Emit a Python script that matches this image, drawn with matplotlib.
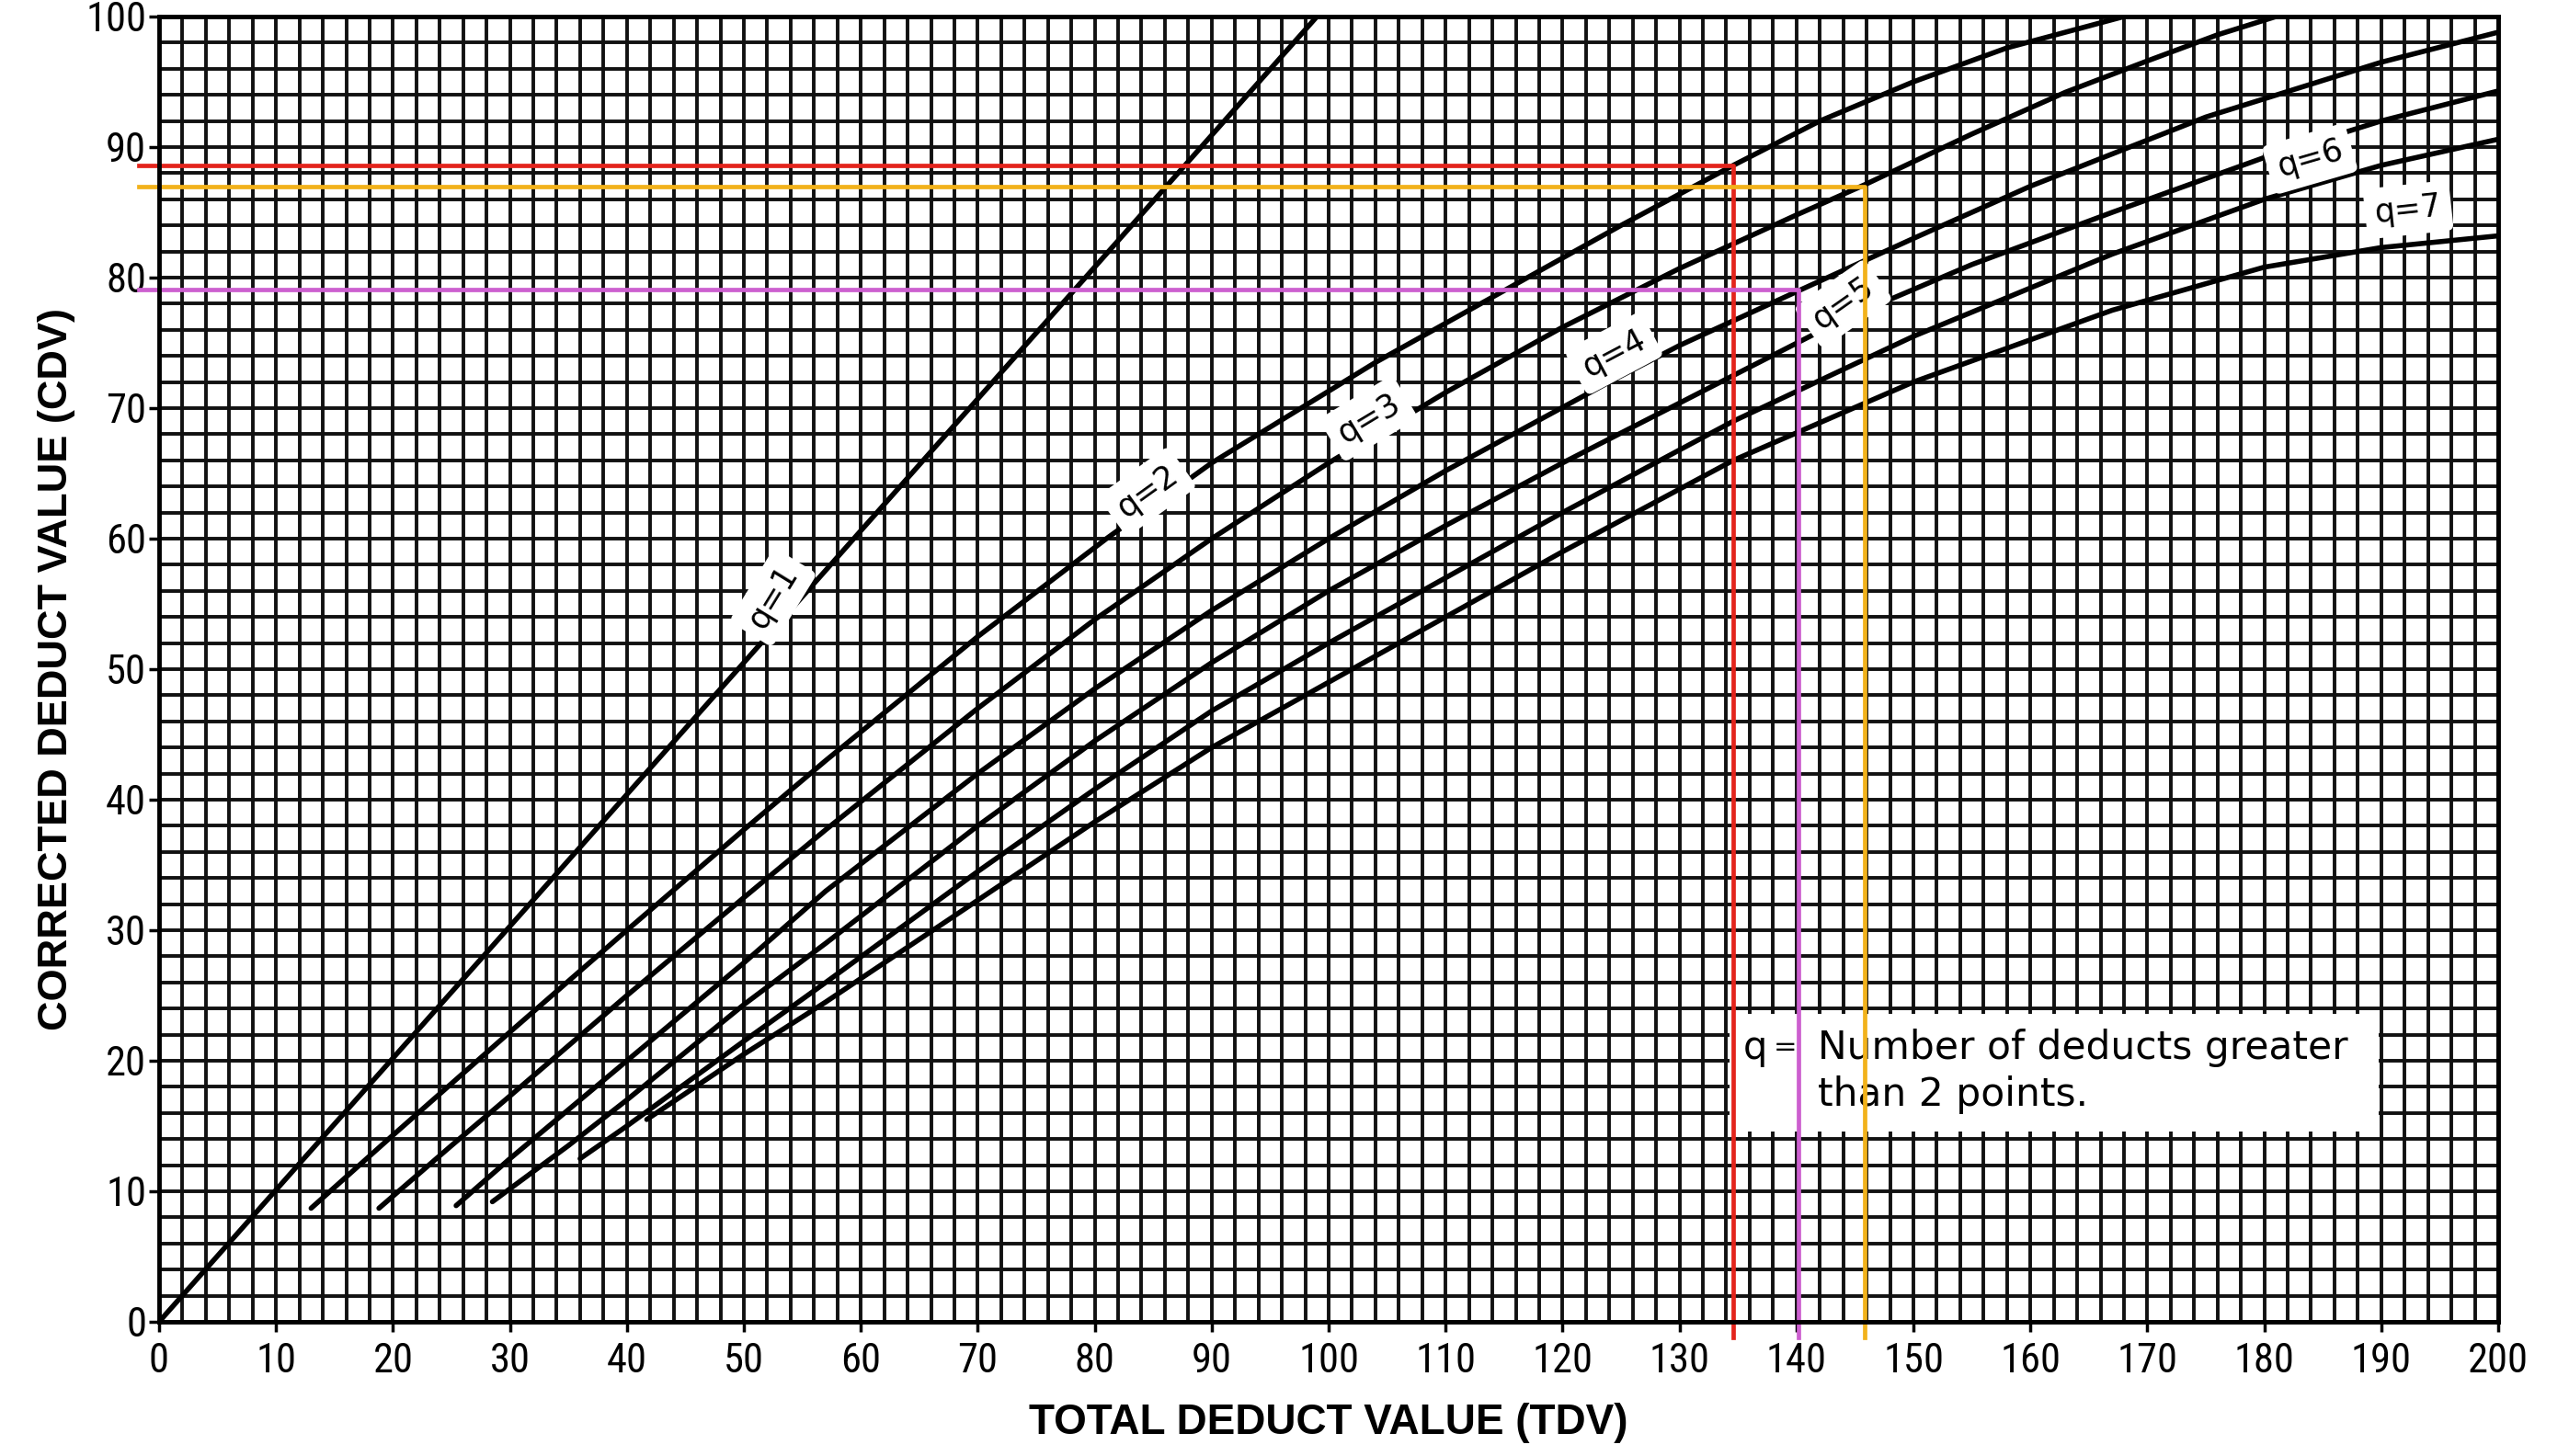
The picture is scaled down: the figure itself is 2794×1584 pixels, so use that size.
import numpy as np
import matplotlib
matplotlib.use("Agg")
import matplotlib.pyplot as plt
from matplotlib import font_manager

# Corrected deduct value curves: total deduct value (TDV) -> corrected deduct value (CDV)
q1_tdv = [0, 99]
q1_cdv = [0, 100]

q2_tdv = [13, 20, 30, 40, 50, 57, 70, 81, 90, 100, 104, 115, 125, 134.6, 142, 150, 158, 168]
q2_cdv = [8.7, 14.3, 22.2, 30, 37.7, 43, 52.5, 60, 65.8, 71.3, 73.5, 79, 84, 88.6, 92, 95, 97.6, 100]

q3_tdv = [18.8, 25, 30, 40, 50, 57, 70, 80, 90, 100, 110, 120, 130, 140, 145.8, 155, 163, 170, 176, 181]
q3_cdv = [8.7, 13.5, 17.3, 25, 32.5, 37.7, 47, 53.8, 60, 65.8, 71.2, 76.2, 80.7, 84.8, 87.1, 91, 94.2, 96.6, 98.6, 100]

q4_tdv = [25.4, 30, 40, 50, 57, 70, 80, 90, 100, 110, 124, 130, 140.2, 150, 160, 175, 190, 200]
q4_cdv = [8.9, 12.5, 20, 27.5, 33, 42, 48.5, 54.5, 60, 65.2, 72, 74.8, 79, 83, 87, 92.3, 96.5, 98.8]

q5_tdv = [28.5, 35, 40, 50, 57, 70, 80, 90, 100, 110, 120, 134.6, 144, 155, 167, 180, 190, 200]
q5_cdv = [9.2, 13.5, 17, 24.3, 29, 38, 44.5, 50.5, 56, 61, 65.8, 72.5, 76.8, 81, 85, 89.2, 92, 94.3]

q6_tdv = [36, 40, 50, 57, 70, 80, 90, 100, 110, 120, 134.6, 150, 167, 180, 190, 200]
q6_cdv = [12.5, 15, 21.5, 26, 34.5, 40.8, 46.8, 52, 57, 62, 69, 75.5, 81.8, 86, 88.6, 90.6]

q7_tdv = [41.7, 50, 57, 70, 80, 90, 100, 110, 120, 134.6, 150, 167, 180, 190, 200]
q7_cdv = [15.5, 20.5, 24.5, 32.3, 38.3, 44, 49, 54, 59, 66, 72, 77.5, 80.8, 82.3, 83.2]

curves = [(q1_tdv, q1_cdv), (q2_tdv, q2_cdv), (q3_tdv, q3_cdv), (q4_tdv, q4_cdv),
          (q5_tdv, q5_cdv), (q6_tdv, q6_cdv), (q7_tdv, q7_cdv)]

# Curve labels and where they sit (TDV, CDV)
label_text = ["q=1", "q=2", "q=3", "q=4", "q=5", "q=6", "q=7"]
label_tdv = [52.5, 84.5, 103.4, 124.4, 144, 183.9, 192.3]
label_cdv = [55.5, 63.6, 69.2, 74.2, 78, 89.1, 85.2]
label_angle_extra = [10, 0, 0, 0, 10, 0, 0]

# Worked read-offs: TDV on the x axis, resulting CDV on the y axis
read_tdv = [134.6, 145.8, 140.2]
read_cdv = [88.6, 87.0, 79.1]
read_colors = ["#e3241c", "#f2b21b", "#cc5fcf"]

x_ticks = list(range(0, 201, 10))
y_ticks = list(range(0, 101, 10))

available = {f.name for f in font_manager.fontManager.ttflist}
narrow = [n for n in ["Liberation Sans Narrow", "DejaVu Sans Condensed", "Roboto Condensed",
                      "Open Sans Condensed", "Liberation Sans"] if n in available]
font = narrow + ["DejaVu Sans"]
title_font = ["Liberation Sans", "DejaVu Sans"]

W, H = 2794, 1584
fig = plt.figure(figsize=(W / 100, H / 100), dpi=100)
fig.patch.set_facecolor("white")
left, right, bottom, top = 173, 2717, 1438, 18
ax = fig.add_axes([left / W, 1 - bottom / H, (right - left) / W, (bottom - top) / H])
ax.set_xlim(0, 200)
ax.set_ylim(0, 100)

# Graph paper grid: one line every 2 units
for gx in np.arange(0, 201, 2):
    ax.axvline(gx, color="#111111", lw=2.8, zorder=1)
for gy in np.arange(0, 101, 2):
    ax.axhline(gy, color="#111111", lw=2.8, zorder=1)

# CDV curves
for tdv, cdv in curves:
    ax.plot(tdv, cdv, color="black", lw=4.0, zorder=3, solid_capstyle="round")

fig.canvas.draw()


def screen_angle(tdv, cdv, x0):
    x1, x2 = x0 - 3, x0 + 3
    y1, y2 = np.interp([x1, x2], tdv, cdv)
    p1 = ax.transData.transform((x1, y1))
    p2 = ax.transData.transform((x2, y2))
    return np.degrees(np.arctan2(p2[1] - p1[1], p2[0] - p1[0]))


for (tdv, cdv), txt, lx, ly, extra in zip(curves, label_text, label_tdv, label_cdv, label_angle_extra):
    ang = screen_angle(tdv, cdv, lx) + extra
    ax.text(lx, ly, txt, rotation=ang, rotation_mode="anchor", ha="center", va="center",
            fontsize=25, family=["DejaVu Sans"], color="black", zorder=5,
            bbox=dict(boxstyle="round,pad=0.3,rounding_size=0.2", fc="white", ec="none"))

# Note box
ax.add_patch(plt.Rectangle((134.3, 14.6), 55.5, 9.0, facecolor="white", edgecolor="none", zorder=4))
ax.text(135.4, 21.0, "q", fontsize=30, family=["DejaVu Sans"], va="center", ha="left", zorder=5)
ax.text(139.0, 21.0, "=", fontsize=22, family=["DejaVu Sans"], va="center", ha="center", zorder=5)
ax.text(141.8, 21.0, "Number of deducts greater", fontsize=30.5, family=["DejaVu Sans"],
        va="center", ha="left", zorder=5)
ax.text(141.8, 17.4, "than 2 points.", fontsize=30.5, family=["DejaVu Sans"],
        va="center", ha="left", zorder=5)

# Read-off lines
for tx, cy, col in zip(read_tdv, read_cdv, read_colors):
    ax.plot([-1.7, tx, tx], [cy, cy, -1.2], color=col, lw=3.4, zorder=6, clip_on=False)

for s in ax.spines.values():
    s.set_linewidth(3.5)
    s.set_color("black")
    s.set_zorder(7)

ax.set_xticks(x_ticks)
ax.set_yticks(y_ticks)
ax.set_xticklabels([str(v) for v in x_ticks], family=font, fontsize=32)
ax.set_yticklabels([str(v) for v in y_ticks], family=font, fontsize=32)
ax.tick_params(axis="both", direction="out", length=8, width=2.5, colors="black")
ax.tick_params(axis="x", pad=8)
ax.tick_params(axis="y", pad=2)

ax.set_xlabel("TOTAL DEDUCT VALUE (TDV)", family=title_font, fontsize=33, fontweight="bold", labelpad=17)
ax.set_ylabel("CORRECTED DEDUCT VALUE (CDV)", family=title_font, fontsize=32.5, fontweight="bold", labelpad=8)

fig.savefig("out.png", dpi=100, facecolor="white")
